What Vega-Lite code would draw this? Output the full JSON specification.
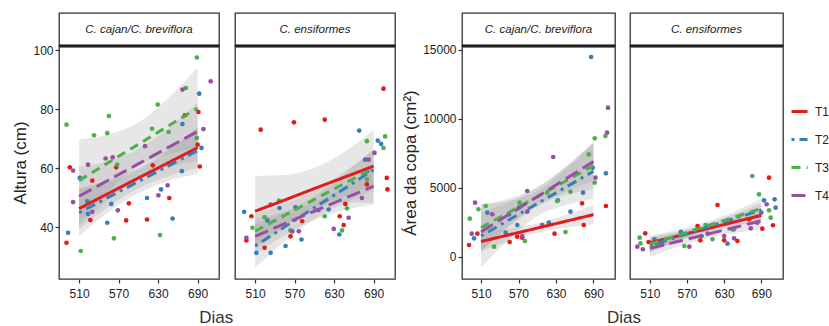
{
"$schema":"https://vega.github.io/schema/vega-lite/v6.json",
"padding":{"left":11,"top":12,"right":0,"bottom":0},
"background":"white",
"datasets":{
"pts":[
{"m":"h","s":"c","T":"T1","d":490.9,"v":34.7},{"m":"h","s":"c","T":"T1","d":495.9,"v":60.3},{"m":"h","s":"c","T":"T1","d":530.1,"v":55.8},{"m":"h","s":"c","T":"T1","d":527.1,"v":42.4},{"m":"h","s":"c","T":"T1","d":566.4,"v":60.3},{"m":"h","s":"c","T":"T1","d":585.6,"v":48.1},{"m":"h","s":"c","T":"T1","d":581.5,"v":42.3},{"m":"h","s":"c","T":"T1","d":613.2,"v":42.6},{"m":"h","s":"c","T":"T1","d":622,"v":61},{"m":"h","s":"c","T":"T1","d":647,"v":49.9},{"m":"h","s":"c","T":"T1","d":670.6,"v":78.0},{"m":"h","s":"c","T":"T1","d":691.3,"v":79.1},{"m":"h","s":"c","T":"T1","d":690,"v":68.0},{"m":"h","s":"c","T":"T1","d":693.3,"v":60.6},
{"m":"h","s":"c","T":"T2","d":493.4,"v":38.1},{"m":"h","s":"c","T":"T2","d":511,"v":56.7},{"m":"h","s":"c","T":"T2","d":523.6,"v":44.5},{"m":"h","s":"c","T":"T2","d":522.6,"v":48.8},{"m":"h","s":"c","T":"T2","d":552.8,"v":41.5},{"m":"h","s":"c","T":"T2","d":558.8,"v":47.9},{"m":"h","s":"c","T":"T2","d":613.2,"v":49.9},{"m":"h","s":"c","T":"T2","d":634.4,"v":52.8},{"m":"h","s":"c","T":"T2","d":652,"v":42.9},{"m":"h","s":"c","T":"T2","d":666.1,"v":59.0},{"m":"h","s":"c","T":"T2","d":667,"v":75.0},{"m":"h","s":"c","T":"T2","d":692.4,"v":85.3},{"m":"h","s":"c","T":"T2","d":695.9,"v":66.9},
{"m":"h","s":"c","T":"T3","d":688.8,"v":97.6},{"m":"h","s":"c","T":"T3","d":490.9,"v":74.8},{"m":"h","s":"c","T":"T3","d":555.3,"v":77.7},{"m":"h","s":"c","T":"T3","d":532.7,"v":71.2},{"m":"h","s":"c","T":"T3","d":552.8,"v":71.9},{"m":"h","s":"c","T":"T3","d":629.4,"v":81.6},{"m":"h","s":"c","T":"T3","d":620.8,"v":73.4},{"m":"h","s":"c","T":"T3","d":646,"v":72.3},{"m":"h","s":"c","T":"T3","d":672.1,"v":87.2},{"m":"h","s":"c","T":"T3","d":688.8,"v":70.3},{"m":"h","s":"c","T":"T3","d":567.9,"v":61.2},{"m":"h","s":"c","T":"T3","d":562.9,"v":36.2},{"m":"h","s":"c","T":"T3","d":512.5,"v":31.9},{"m":"h","s":"c","T":"T3","d":632.9,"v":37.3},
{"m":"h","s":"c","T":"T4","d":500.9,"v":59.2},{"m":"h","s":"c","T":"T4","d":500.9,"v":48.5},{"m":"h","s":"c","T":"T4","d":523.6,"v":61.2},{"m":"h","s":"c","T":"T4","d":530,"v":45.2},{"m":"h","s":"c","T":"T4","d":550.3,"v":63.3},{"m":"h","s":"c","T":"T4","d":561,"v":63.7},{"m":"h","s":"c","T":"T4","d":568.9,"v":45.7},{"m":"h","s":"c","T":"T4","d":610.2,"v":67.5},{"m":"h","s":"c","T":"T4","d":630.4,"v":50.8},{"m":"h","s":"c","T":"T4","d":644.5,"v":54.2},{"m":"h","s":"c","T":"T4","d":667,"v":86.7},{"m":"h","s":"c","T":"T4","d":698.9,"v":73.3},{"m":"h","s":"c","T":"T4","d":709.9,"v":89.5},
{"m":"h","s":"e","T":"T1","d":518.5,"v":73.1},{"m":"h","s":"e","T":"T1","d":569,"v":75.6},{"m":"h","s":"e","T":"T1","d":615.8,"v":76.5},{"m":"h","s":"e","T":"T1","d":705,"v":87.0},{"m":"h","s":"e","T":"T1","d":710,"v":56.7},{"m":"h","s":"e","T":"T1","d":711,"v":52.8},{"m":"h","s":"e","T":"T1","d":504.4,"v":43.7},{"m":"h","s":"e","T":"T1","d":496.8,"v":35.5},{"m":"h","s":"e","T":"T1","d":524.5,"v":33.0},{"m":"h","s":"e","T":"T1","d":563.8,"v":36.9},{"m":"h","s":"e","T":"T1","d":581.5,"v":42.0},{"m":"h","s":"e","T":"T1","d":638.5,"v":43.7},{"m":"h","s":"e","T":"T1","d":647,"v":47.9},{"m":"h","s":"e","T":"T1","d":644.5,"v":40.7},{"m":"h","s":"e","T":"T1","d":679.8,"v":54.5},
{"m":"h","s":"e","T":"T2","d":493.4,"v":45.2},{"m":"h","s":"e","T":"T2","d":512,"v":31.3},{"m":"h","s":"e","T":"T2","d":533.6,"v":31.3},{"m":"h","s":"e","T":"T2","d":528.6,"v":42.3},{"m":"h","s":"e","T":"T2","d":547.2,"v":46.5},{"m":"h","s":"e","T":"T2","d":556.3,"v":33.6},{"m":"h","s":"e","T":"T2","d":571.4,"v":46.7},{"m":"h","s":"e","T":"T2","d":580.5,"v":35.8},{"m":"h","s":"e","T":"T2","d":621.8,"v":46.0},{"m":"h","s":"e","T":"T2","d":637.9,"v":37.5},{"m":"h","s":"e","T":"T2","d":668.1,"v":72.8},{"m":"h","s":"e","T":"T2","d":677.2,"v":62.9},{"m":"h","s":"e","T":"T2","d":696.4,"v":69.4},{"m":"h","s":"e","T":"T2","d":701.4,"v":68.3},
{"m":"h","s":"e","T":"T3","d":506,"v":39.8},{"m":"h","s":"e","T":"T3","d":524.5,"v":43.4},{"m":"h","s":"e","T":"T3","d":546.3,"v":49.0},{"m":"h","s":"e","T":"T3","d":563.8,"v":38.9},{"m":"h","s":"e","T":"T3","d":615.8,"v":43.7},{"m":"h","s":"e","T":"T3","d":642,"v":38.9},{"m":"h","s":"e","T":"T3","d":649.6,"v":46.4},{"m":"h","s":"e","T":"T3","d":679.8,"v":69.2},{"m":"h","s":"e","T":"T3","d":680,"v":56.2},{"m":"h","s":"e","T":"T3","d":707.5,"v":70.8},{"m":"h","s":"e","T":"T3","d":705,"v":66.9},
{"m":"h","s":"e","T":"T4","d":496.8,"v":36.4},{"m":"h","s":"e","T":"T4","d":533.6,"v":47.7},{"m":"h","s":"e","T":"T4","d":566.4,"v":38.6},{"m":"h","s":"e","T":"T4","d":576.5,"v":38.6},{"m":"h","s":"e","T":"T4","d":606.3,"v":45.8},{"m":"h","s":"e","T":"T4","d":629.5,"v":39.4},{"m":"h","s":"e","T":"T4","d":652.1,"v":43.2},{"m":"h","s":"e","T":"T4","d":672.2,"v":49.9},{"m":"h","s":"e","T":"T4","d":682.3,"v":62.9},{"m":"h","s":"e","T":"T4","d":691.4,"v":65.2},{"m":"h","s":"e","T":"T4","d":680,"v":59.0},
{"m":"a","s":"c","T":"T1","d":490.8,"v":849},{"m":"a","s":"c","T":"T1","d":504.1,"v":1669},{"m":"a","s":"c","T":"T1","d":555.8,"v":1067},{"m":"a","s":"c","T":"T1","d":568,"v":1450},{"m":"a","s":"c","T":"T1","d":627.7,"v":1669},{"m":"a","s":"c","T":"T1","d":671.8,"v":3875},{"m":"a","s":"c","T":"T1","d":674.5,"v":2300},{"m":"a","s":"c","T":"T1","d":710,"v":3679},{"m":"a","s":"c","T":"T1","d":576,"v":1379},
{"m":"a","s":"c","T":"T2","d":686.2,"v":14492},{"m":"a","s":"c","T":"T2","d":710,"v":6052},{"m":"a","s":"c","T":"T2","d":688.9,"v":6459},{"m":"a","s":"c","T":"T2","d":498.8,"v":1335},{"m":"a","s":"c","T":"T2","d":520,"v":3193},{"m":"a","s":"c","T":"T2","d":554.7,"v":3077},{"m":"a","s":"c","T":"T2","d":568,"v":2300},{"m":"a","s":"c","T":"T2","d":570.7,"v":3556},{"m":"a","s":"c","T":"T2","d":618.6,"v":2467},{"m":"a","s":"c","T":"T2","d":633,"v":4093},{"m":"a","s":"c","T":"T2","d":653.2,"v":3266},{"m":"a","s":"c","T":"T2","d":673.4,"v":4645},{"m":"a","s":"c","T":"T2","d":549.4,"v":1742},
{"m":"a","s":"c","T":"T3","d":492,"v":2758},{"m":"a","s":"c","T":"T3","d":505.7,"v":3440},{"m":"a","s":"c","T":"T3","d":517.5,"v":3679},{"m":"a","s":"c","T":"T3","d":530.8,"v":726},{"m":"a","s":"c","T":"T3","d":580.3,"v":1139},{"m":"a","s":"c","T":"T3","d":571.8,"v":3919},{"m":"a","s":"c","T":"T3","d":631.9,"v":4042},{"m":"a","s":"c","T":"T3","d":645.2,"v":1792},{"m":"a","s":"c","T":"T3","d":653.2,"v":4717},{"m":"a","s":"c","T":"T3","d":682.5,"v":7431},{"m":"a","s":"c","T":"T3","d":692,"v":8592},{"m":"a","s":"c","T":"T3","d":692,"v":5370},{"m":"a","s":"c","T":"T3","d":709.1,"v":8759},{"m":"a","s":"c","T":"T3","d":615.9,"v":4645},
{"m":"a","s":"c","T":"T4","d":500.4,"v":3919},{"m":"a","s":"c","T":"T4","d":495.1,"v":1669},{"m":"a","s":"c","T":"T4","d":528,"v":3077},{"m":"a","s":"c","T":"T4","d":584,"v":4768},{"m":"a","s":"c","T":"T4","d":584,"v":3266},{"m":"a","s":"c","T":"T4","d":607.9,"v":2300},{"m":"a","s":"c","T":"T4","d":576,"v":1502},{"m":"a","s":"c","T":"T4","d":625.5,"v":7235},{"m":"a","s":"c","T":"T4","d":693.2,"v":5733},{"m":"a","s":"c","T":"T4","d":713.3,"v":10813},{"m":"a","s":"c","T":"T4","d":711.8,"v":9000},
{"m":"a","s":"e","T":"T1","d":502.6,"v":1698},{"m":"a","s":"e","T":"T1","d":508,"v":1067},{"m":"a","s":"e","T":"T1","d":587.1,"v":2228},{"m":"a","s":"e","T":"T1","d":619.3,"v":3752},{"m":"a","s":"e","T":"T1","d":591.5,"v":1190},{"m":"a","s":"e","T":"T1","d":651.4,"v":1139},{"m":"a","s":"e","T":"T1","d":630,"v":1190},{"m":"a","s":"e","T":"T1","d":702.4,"v":5733},{"m":"a","s":"e","T":"T1","d":708.8,"v":2279},{"m":"a","s":"e","T":"T1","d":691.6,"v":2032},{"m":"a","s":"e","T":"T1","d":670.2,"v":2714},
{"m":"a","s":"e","T":"T2","d":517.6,"v":1263},{"m":"a","s":"e","T":"T2","d":521,"v":1000},{"m":"a","s":"e","T":"T2","d":635.4,"v":943},{"m":"a","s":"e","T":"T2","d":643.4,"v":1988},{"m":"a","s":"e","T":"T2","d":694.3,"v":4093},{"m":"a","s":"e","T":"T2","d":711.5,"v":4165},{"m":"a","s":"e","T":"T2","d":713.1,"v":3556},{"m":"a","s":"e","T":"T2","d":593.6,"v":1502},{"m":"a","s":"e","T":"T2","d":560,"v":1800},{"m":"a","s":"e","T":"T2","d":690,"v":3200},
{"m":"a","s":"e","T":"T3","d":493.5,"v":1379},{"m":"a","s":"e","T":"T3","d":495,"v":972},{"m":"a","s":"e","T":"T3","d":565.8,"v":776},{"m":"a","s":"e","T":"T3","d":611.2,"v":1263},{"m":"a","s":"e","T":"T3","d":675.5,"v":5856},{"m":"a","s":"e","T":"T3","d":686.3,"v":4528},{"m":"a","s":"e","T":"T3","d":702.4,"v":3367},{"m":"a","s":"e","T":"T3","d":705.1,"v":2830},{"m":"a","s":"e","T":"T3","d":646,"v":1988},{"m":"a","s":"e","T":"T3","d":600,"v":2300},
{"m":"a","s":"e","T":"T4","d":489.8,"v":726},{"m":"a","s":"e","T":"T4","d":498.8,"v":537},{"m":"a","s":"e","T":"T4","d":573.8,"v":726},{"m":"a","s":"e","T":"T4","d":603.2,"v":1669},{"m":"a","s":"e","T":"T4","d":630,"v":1502},{"m":"a","s":"e","T":"T4","d":646.1,"v":1335},{"m":"a","s":"e","T":"T4","d":673,"v":2061},{"m":"a","s":"e","T":"T4","d":698.7,"v":3803},{"m":"a","s":"e","T":"T4","d":683.6,"v":2467},{"m":"a","s":"e","T":"T4","d":530,"v":900}
],
"fits":[
{"m":"h","s":"c","T":"T1","d":510,"f":46.3,"lo":39.3,"hi":53.3},{"m":"h","s":"c","T":"T1","d":555,"f":51.5,"lo":47.0,"hi":56.0},{"m":"h","s":"c","T":"T1","d":600,"f":56.7,"lo":53.2,"hi":60.2},{"m":"h","s":"c","T":"T1","d":645,"f":61.8,"lo":57.3,"hi":66.3},{"m":"h","s":"c","T":"T1","d":690,"f":67.0,"lo":60.0,"hi":74.0},
{"m":"h","s":"c","T":"T2","d":510,"f":44.9,"lo":36.9,"hi":52.9},{"m":"h","s":"c","T":"T2","d":555,"f":50.2,"lo":45.2,"hi":55.2},{"m":"h","s":"c","T":"T2","d":600,"f":55.5,"lo":51.5,"hi":59.5},{"m":"h","s":"c","T":"T2","d":645,"f":60.7,"lo":55.7,"hi":65.7},{"m":"h","s":"c","T":"T2","d":690,"f":66.0,"lo":58.0,"hi":74.0},
{"m":"h","s":"c","T":"T3","d":510,"f":55.8,"lo":41.8,"hi":69.8},{"m":"h","s":"c","T":"T3","d":555,"f":62.0,"lo":52.5,"hi":71.5},{"m":"h","s":"c","T":"T3","d":600,"f":68.1,"lo":60.7,"hi":75.5},{"m":"h","s":"c","T":"T3","d":645,"f":74.3,"lo":64.8,"hi":83.8},{"m":"h","s":"c","T":"T3","d":690,"f":80.4,"lo":66.8,"hi":94.0},
{"m":"h","s":"c","T":"T4","d":510,"f":50.5,"lo":40.5,"hi":60.5},{"m":"h","s":"c","T":"T4","d":555,"f":56.0,"lo":49.5,"hi":62.5},{"m":"h","s":"c","T":"T4","d":600,"f":61.5,"lo":56.5,"hi":66.5},{"m":"h","s":"c","T":"T4","d":645,"f":67.0,"lo":60.5,"hi":73.5},{"m":"h","s":"c","T":"T4","d":690,"f":72.5,"lo":62.5,"hi":82.5},
{"m":"h","s":"e","T":"T1","d":510,"f":45.4,"lo":33.4,"hi":57.4},{"m":"h","s":"e","T":"T1","d":555,"f":49.2,"lo":40.7,"hi":57.7},{"m":"h","s":"e","T":"T1","d":600,"f":53.1,"lo":46.1,"hi":60.1},{"m":"h","s":"e","T":"T1","d":645,"f":56.9,"lo":48.4,"hi":65.4},{"m":"h","s":"e","T":"T1","d":690,"f":60.7,"lo":48.3,"hi":73.1},
{"m":"h","s":"e","T":"T2","d":510,"f":33.6,"lo":26.2,"hi":41.0},{"m":"h","s":"e","T":"T2","d":555,"f":40.1,"lo":35.1,"hi":45.1},{"m":"h","s":"e","T":"T2","d":600,"f":46.6,"lo":42.8,"hi":50.4},{"m":"h","s":"e","T":"T2","d":645,"f":53.0,"lo":48.0,"hi":58.0},{"m":"h","s":"e","T":"T2","d":690,"f":59.5,"lo":52.5,"hi":66.5},
{"m":"h","s":"e","T":"T3","d":510,"f":38.6,"lo":32.6,"hi":44.6},{"m":"h","s":"e","T":"T3","d":555,"f":44.0,"lo":40.0,"hi":48.0},{"m":"h","s":"e","T":"T3","d":600,"f":49.4,"lo":46.4,"hi":52.4},{"m":"h","s":"e","T":"T3","d":645,"f":54.7,"lo":50.7,"hi":58.7},{"m":"h","s":"e","T":"T3","d":690,"f":60.1,"lo":54.1,"hi":66.1},
{"m":"h","s":"e","T":"T4","d":510,"f":36.9,"lo":30.9,"hi":42.9},{"m":"h","s":"e","T":"T4","d":555,"f":41.2,"lo":37.2,"hi":45.2},{"m":"h","s":"e","T":"T4","d":600,"f":45.4,"lo":42.4,"hi":48.4},{"m":"h","s":"e","T":"T4","d":645,"f":49.7,"lo":45.7,"hi":53.7},{"m":"h","s":"e","T":"T4","d":690,"f":53.9,"lo":47.7,"hi":60.1},
{"m":"a","s":"c","T":"T1","d":510,"f":1100,"lo":400,"hi":1800},{"m":"a","s":"c","T":"T1","d":555,"f":1588,"lo":1138,"hi":2038},{"m":"a","s":"c","T":"T1","d":600,"f":2075,"lo":1725,"hi":2425},{"m":"a","s":"c","T":"T1","d":645,"f":2563,"lo":2113,"hi":3013},{"m":"a","s":"c","T":"T1","d":690,"f":3050,"lo":2350,"hi":3750},
{"m":"a","s":"c","T":"T2","d":510,"f":1500,"lo":-800,"hi":3800},{"m":"a","s":"c","T":"T2","d":555,"f":2675,"lo":1275,"hi":4075},{"m":"a","s":"c","T":"T2","d":600,"f":3850,"lo":2950,"hi":4750},{"m":"a","s":"c","T":"T2","d":645,"f":5025,"lo":3725,"hi":6325},{"m":"a","s":"c","T":"T2","d":690,"f":6200,"lo":4200,"hi":8200},
{"m":"a","s":"c","T":"T3","d":510,"f":2100,"lo":400,"hi":3800},{"m":"a","s":"c","T":"T3","d":555,"f":3225,"lo":2225,"hi":4225},{"m":"a","s":"c","T":"T3","d":600,"f":4350,"lo":3650,"hi":5050},{"m":"a","s":"c","T":"T3","d":645,"f":5475,"lo":4475,"hi":6475},{"m":"a","s":"c","T":"T3","d":690,"f":6600,"lo":4900,"hi":8300},
{"m":"a","s":"c","T":"T4","d":510,"f":1800,"lo":400,"hi":3200},{"m":"a","s":"c","T":"T4","d":555,"f":3075,"lo":2175,"hi":3975},{"m":"a","s":"c","T":"T4","d":600,"f":4350,"lo":3700,"hi":5000},{"m":"a","s":"c","T":"T4","d":645,"f":5625,"lo":4725,"hi":6525},{"m":"a","s":"c","T":"T4","d":690,"f":6900,"lo":5500,"hi":8300},
{"m":"a","s":"e","T":"T1","d":510,"f":1000,"lo":550,"hi":1450},{"m":"a","s":"e","T":"T1","d":555,"f":1500,"lo":1200,"hi":1800},{"m":"a","s":"e","T":"T1","d":600,"f":2000,"lo":1780,"hi":2220},{"m":"a","s":"e","T":"T1","d":645,"f":2500,"lo":2200,"hi":2800},{"m":"a","s":"e","T":"T1","d":690,"f":3000,"lo":2550,"hi":3450},
{"m":"a","s":"e","T":"T2","d":510,"f":800,"lo":300,"hi":1300},{"m":"a","s":"e","T":"T2","d":555,"f":1450,"lo":1120,"hi":1780},{"m":"a","s":"e","T":"T2","d":600,"f":2100,"lo":1850,"hi":2350},{"m":"a","s":"e","T":"T2","d":645,"f":2750,"lo":2420,"hi":3080},{"m":"a","s":"e","T":"T2","d":690,"f":3400,"lo":2900,"hi":3900},
{"m":"a","s":"e","T":"T3","d":510,"f":900,"lo":300,"hi":1500},{"m":"a","s":"e","T":"T3","d":555,"f":1550,"lo":1150,"hi":1950},{"m":"a","s":"e","T":"T3","d":600,"f":2200,"lo":1900,"hi":2500},{"m":"a","s":"e","T":"T3","d":645,"f":2850,"lo":2450,"hi":3250},{"m":"a","s":"e","T":"T3","d":690,"f":3500,"lo":2800,"hi":4200},
{"m":"a","s":"e","T":"T4","d":510,"f":600,"lo":0,"hi":1200},{"m":"a","s":"e","T":"T4","d":555,"f":1100,"lo":700,"hi":1500},{"m":"a","s":"e","T":"T4","d":600,"f":1600,"lo":1300,"hi":1900},{"m":"a","s":"e","T":"T4","d":645,"f":2100,"lo":1700,"hi":2500},{"m":"a","s":"e","T":"T4","d":690,"f":2600,"lo":2000,"hi":3200}
]
},
"spacing":2,
"resolve":{"scale":{"color":"shared","strokeDash":"shared","fill":"shared"}},
"hconcat":[
{"title":{"text":"Dias","orient":"bottom","anchor":"middle","dx":12},"spacing":10,"hconcat":[
{"vconcat":[
{"width":160,"height":33,"data":{"values":[{"lab":"C. cajan/C. breviflora"}]},"layer":[
{"mark":{"type":"text","font":"Liberation Sans","fontStyle":"italic","fontSize":11.5,"color":"#1a1a1a"},"encoding":{"text":{"field":"lab"}}},
{"mark":{"type":"rule","color":"#000000","strokeWidth":3},"encoding":{"y":{"datum":0,"type":"quantitative","scale":{"domain":[0,1]},"axis":null}}}]},
{"width":160,"height":233,"layer":[
{"data":{"name":"fits"},"transform":[{"filter":"datum.m=='h' && datum.s=='c'"}],"mark":{"type":"area","color":"#999999","opacity":0.23,"interpolate":"monotone"},"encoding":{"x":{"field":"d","type":"quantitative","scale":{"domain":[479.5,722.5],"nice":false},"axis":{"values":[510,570,630,690],"title":null}},"y":{"field":"lo","type":"quantitative","title":"Altura (cm)","scale":{"domain":[22.4,101.5],"nice":false,"zero":false},"axis":{"values":[40,60,80,100]}},"y2":{"field":"hi"},"detail":{"field":"T"}}},
{"data":{"name":"pts"},"transform":[{"filter":"datum.m=='h' && datum.s=='c'"}],"mark":{"type":"circle","size":22,"opacity":1},"encoding":{"x":{"field":"d","type":"quantitative","title":null},"y":{"field":"v","type":"quantitative","title":"Altura (cm)"},"fill":{"field":"T","type":"nominal","scale":{"range":["#E41A1C","#377EB8","#4DAF4A","#984EA3"]},"legend":null}}},
{"data":{"name":"fits"},"transform":[{"filter":"datum.m=='h' && datum.s=='c'"}],"mark":{"type":"line","strokeWidth":3,"strokeCap":"butt"},"encoding":{"x":{"field":"d","type":"quantitative","title":null},"y":{"field":"f","type":"quantitative","title":"Altura (cm)"},"color":{"field":"T","type":"nominal","title":null,"scale":{"domain":["T1","T2","T3","T4"],"range":["#E41A1C","#377EB8","#4DAF4A","#984EA3"]},"legend":{"orient":"none","legendX":731,"legendY":89}},"strokeDash":{"field":"T","type":"nominal","title":null,"scale":{"domain":["T1","T2","T3","T4"],"range":[[1,0],[3,5,10,5],[9,6],[14,6]]},"legend":{"orient":"none","legendX":731,"legendY":89}}}}
]}],"spacing":0,"bounds":"flush"},
{"vconcat":[
{"width":160,"height":33,"data":{"values":[{"lab":"C. ensiformes"}]},"layer":[
{"mark":{"type":"text","font":"Liberation Sans","fontStyle":"italic","fontSize":11.5,"color":"#1a1a1a"},"encoding":{"text":{"field":"lab"}}},
{"mark":{"type":"rule","color":"#000000","strokeWidth":3},"encoding":{"y":{"datum":0,"type":"quantitative","scale":{"domain":[0,1]},"axis":null}}}]},
{"width":160,"height":233,"layer":[
{"data":{"name":"fits"},"transform":[{"filter":"datum.m=='h' && datum.s=='e'"}],"mark":{"type":"area","color":"#999999","opacity":0.23,"interpolate":"monotone"},"encoding":{"x":{"field":"d","type":"quantitative","scale":{"domain":[479.5,722.5],"nice":false},"axis":{"values":[510,570,630,690],"title":null}},"y":{"field":"lo","type":"quantitative","scale":{"domain":[22.4,101.5],"nice":false,"zero":false},"axis":null},"y2":{"field":"hi"},"detail":{"field":"T"}}},
{"data":{"name":"pts"},"transform":[{"filter":"datum.m=='h' && datum.s=='e'"}],"mark":{"type":"circle","size":22,"opacity":1},"encoding":{"x":{"field":"d","type":"quantitative","title":null},"y":{"field":"v","type":"quantitative","axis":null},"fill":{"field":"T","type":"nominal","legend":null}}},
{"data":{"name":"fits"},"transform":[{"filter":"datum.m=='h' && datum.s=='e'"}],"mark":{"type":"line","strokeWidth":3,"strokeCap":"butt"},"encoding":{"x":{"field":"d","type":"quantitative","title":null},"y":{"field":"f","type":"quantitative","axis":null},"color":{"field":"T","type":"nominal","title":null},"strokeDash":{"field":"T","type":"nominal","title":null}}}
]}],"spacing":0,"bounds":"flush"}
]},
{"title":{"text":"Dias","orient":"bottom","anchor":"middle","dx":31},"spacing":9,"hconcat":[
{"vconcat":[
{"width":153,"height":33,"data":{"values":[{"lab":"C. cajan/C. breviflora"}]},"layer":[
{"mark":{"type":"text","font":"Liberation Sans","fontStyle":"italic","fontSize":11.5,"color":"#1a1a1a"},"encoding":{"text":{"field":"lab"}}},
{"mark":{"type":"rule","color":"#000000","strokeWidth":3},"encoding":{"y":{"datum":0,"type":"quantitative","scale":{"domain":[0,1]},"axis":null}}}]},
{"width":153,"height":233,"layer":[
{"data":{"name":"fits"},"transform":[{"filter":"datum.m=='a' && datum.s=='c'"}],"mark":{"type":"area","color":"#999999","opacity":0.23,"interpolate":"monotone"},"encoding":{"x":{"field":"d","type":"quantitative","scale":{"domain":[479.5,724.5],"nice":false},"axis":{"values":[510,570,630,690],"title":null}},"y":{"field":"lo","type":"quantitative","title":"Área da copa (cm²)","scale":{"domain":[-1620,15290],"nice":false,"zero":false},"axis":{"values":[0,5000,10000,15000],"format":"d"}},"y2":{"field":"hi"},"detail":{"field":"T"}}},
{"data":{"name":"pts"},"transform":[{"filter":"datum.m=='a' && datum.s=='c'"}],"mark":{"type":"circle","size":22,"opacity":1},"encoding":{"x":{"field":"d","type":"quantitative","title":null},"y":{"field":"v","type":"quantitative","title":"Área da copa (cm²)"},"fill":{"field":"T","type":"nominal","legend":null}}},
{"data":{"name":"fits"},"transform":[{"filter":"datum.m=='a' && datum.s=='c'"}],"mark":{"type":"line","strokeWidth":3,"strokeCap":"butt"},"encoding":{"x":{"field":"d","type":"quantitative","title":null},"y":{"field":"f","type":"quantitative","title":"Área da copa (cm²)"},"color":{"field":"T","type":"nominal","title":null},"strokeDash":{"field":"T","type":"nominal","title":null}}}
]}],"spacing":0,"bounds":"flush"},
{"vconcat":[
{"width":153,"height":33,"data":{"values":[{"lab":"C. ensiformes"}]},"layer":[
{"mark":{"type":"text","font":"Liberation Sans","fontStyle":"italic","fontSize":11.5,"color":"#1a1a1a"},"encoding":{"text":{"field":"lab"}}},
{"mark":{"type":"rule","color":"#000000","strokeWidth":3},"encoding":{"y":{"datum":0,"type":"quantitative","scale":{"domain":[0,1]},"axis":null}}}]},
{"width":153,"height":233,"layer":[
{"data":{"name":"fits"},"transform":[{"filter":"datum.m=='a' && datum.s=='e'"}],"mark":{"type":"area","color":"#999999","opacity":0.23,"interpolate":"monotone"},"encoding":{"x":{"field":"d","type":"quantitative","scale":{"domain":[478,725],"nice":false},"axis":{"values":[510,570,630,690],"title":null}},"y":{"field":"lo","type":"quantitative","scale":{"domain":[-1620,15290],"nice":false,"zero":false},"axis":null},"y2":{"field":"hi"},"detail":{"field":"T"}}},
{"data":{"name":"pts"},"transform":[{"filter":"datum.m=='a' && datum.s=='e'"}],"mark":{"type":"circle","size":22,"opacity":1},"encoding":{"x":{"field":"d","type":"quantitative","title":null},"y":{"field":"v","type":"quantitative","axis":null},"fill":{"field":"T","type":"nominal","legend":null}}},
{"data":{"name":"fits"},"transform":[{"filter":"datum.m=='a' && datum.s=='e'"}],"mark":{"type":"line","strokeWidth":3,"strokeCap":"butt"},"encoding":{"x":{"field":"d","type":"quantitative","title":null},"y":{"field":"f","type":"quantitative","axis":null},"color":{"field":"T","type":"nominal","title":null},"strokeDash":{"field":"T","type":"nominal","title":null}}}
]}],"spacing":0,"bounds":"flush"}
]}
],
"config":{
"view":{"stroke":"#333333","strokeWidth":1.3},
"axis":{"grid":false,"domain":false,"tickColor":"#333333","tickSize":4,"tickWidth":1.2,"labelFont":"Liberation Sans","labelFontSize":12,"labelColor":"#222222","labelPadding":2,"titleFont":"Liberation Sans","titleFontSize":17,"titleFontWeight":"normal","titleColor":"#222222","titlePadding":3},
"axisX":{"labelPadding":5},
"legend":{"symbolType":"stroke","symbolStrokeWidth":3,"symbolSize":256,"labelFont":"Liberation Sans","labelFontSize":12,"labelColor":"#222222","rowPadding":12,"labelOffset":6},
"title":{"font":"Liberation Sans","fontSize":17,"fontWeight":"normal","color":"#333333","offset":10}
}
}
